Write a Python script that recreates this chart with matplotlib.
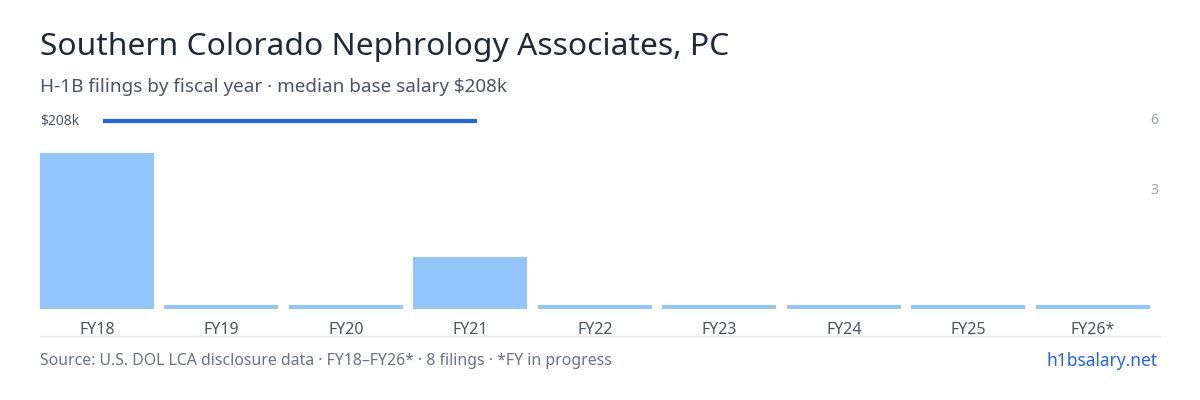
import matplotlib
matplotlib.use("Agg")
import matplotlib.pyplot as plt

years = ["FY18","FY19","FY20","FY21","FY22","FY23","FY24","FY25","FY26*"]
filings = [6,0,0,2,0,0,0,0,0]
salary_label = "$208k"
salary_span = (0, 3)

plt.rcParams['font.family'] = ['Noto Sans', 'DejaVu Sans']
fig = plt.figure(figsize=(12,4), dpi=100)
ax = fig.add_axes([40/1200, 1-309/400, 1120/1200, 194/400])
n = len(years)
heights = [max(v, 0.15) for v in filings]
ax.bar(range(n), heights, width=0.916, color="#93c5fd")
ax.set_xlim(-0.458, 8.54)
ax.set_ylim(0, 194/26)
ax.plot([salary_span[0]+0.05, salary_span[1]+0.05], [7.23,7.23], color="#2563eb", lw=3, solid_capstyle='butt')
ax.set_xticks(range(n))
ax.set_xticklabels(years, fontsize=11.5, color="#4b5563")
ax.tick_params(length=0, pad=9)
ax.set_yticks([])
for s in ax.spines.values():
    s.set_visible(False)

fig.text(40/1200, 1-121/400, salary_label, fontsize=10, color="#4b5563", va='center')
fig.text(1158/1200, 1-120/400, "6", fontsize=10, color="#9ca3af", va='center', ha='right')
fig.text(1158/1200, 1-191/400, "3", fontsize=10, color="#9ca3af", va='center', ha='right')
fig.add_artist(plt.Line2D([40/1200, 1160/1200], [1-336/400]*2, color="#e5e7eb", lw=1))

fig.text(40/1200, 1-47/400, "Southern Colorado Nephrology Associates, PC", fontsize=22.9, color="#1f2937", va='center')
fig.text(40/1200, 1-87/400, "H-1B filings by fiscal year · median base salary $208k", fontsize=13.6, color="#4b5563", va='center')
fig.text(40/1200, 1-361/400, "Source: U.S. DOL LCA disclosure data · FY18–FY26* · 8 filings · *FY in progress", fontsize=11.4, color="#6b7280", va='center')
fig.text(1158/1200, 1-361/400, "h1bsalary.net", fontsize=12.5, color="#2563eb", va='center', ha='right')
fig.savefig("out.png", dpi=100)
